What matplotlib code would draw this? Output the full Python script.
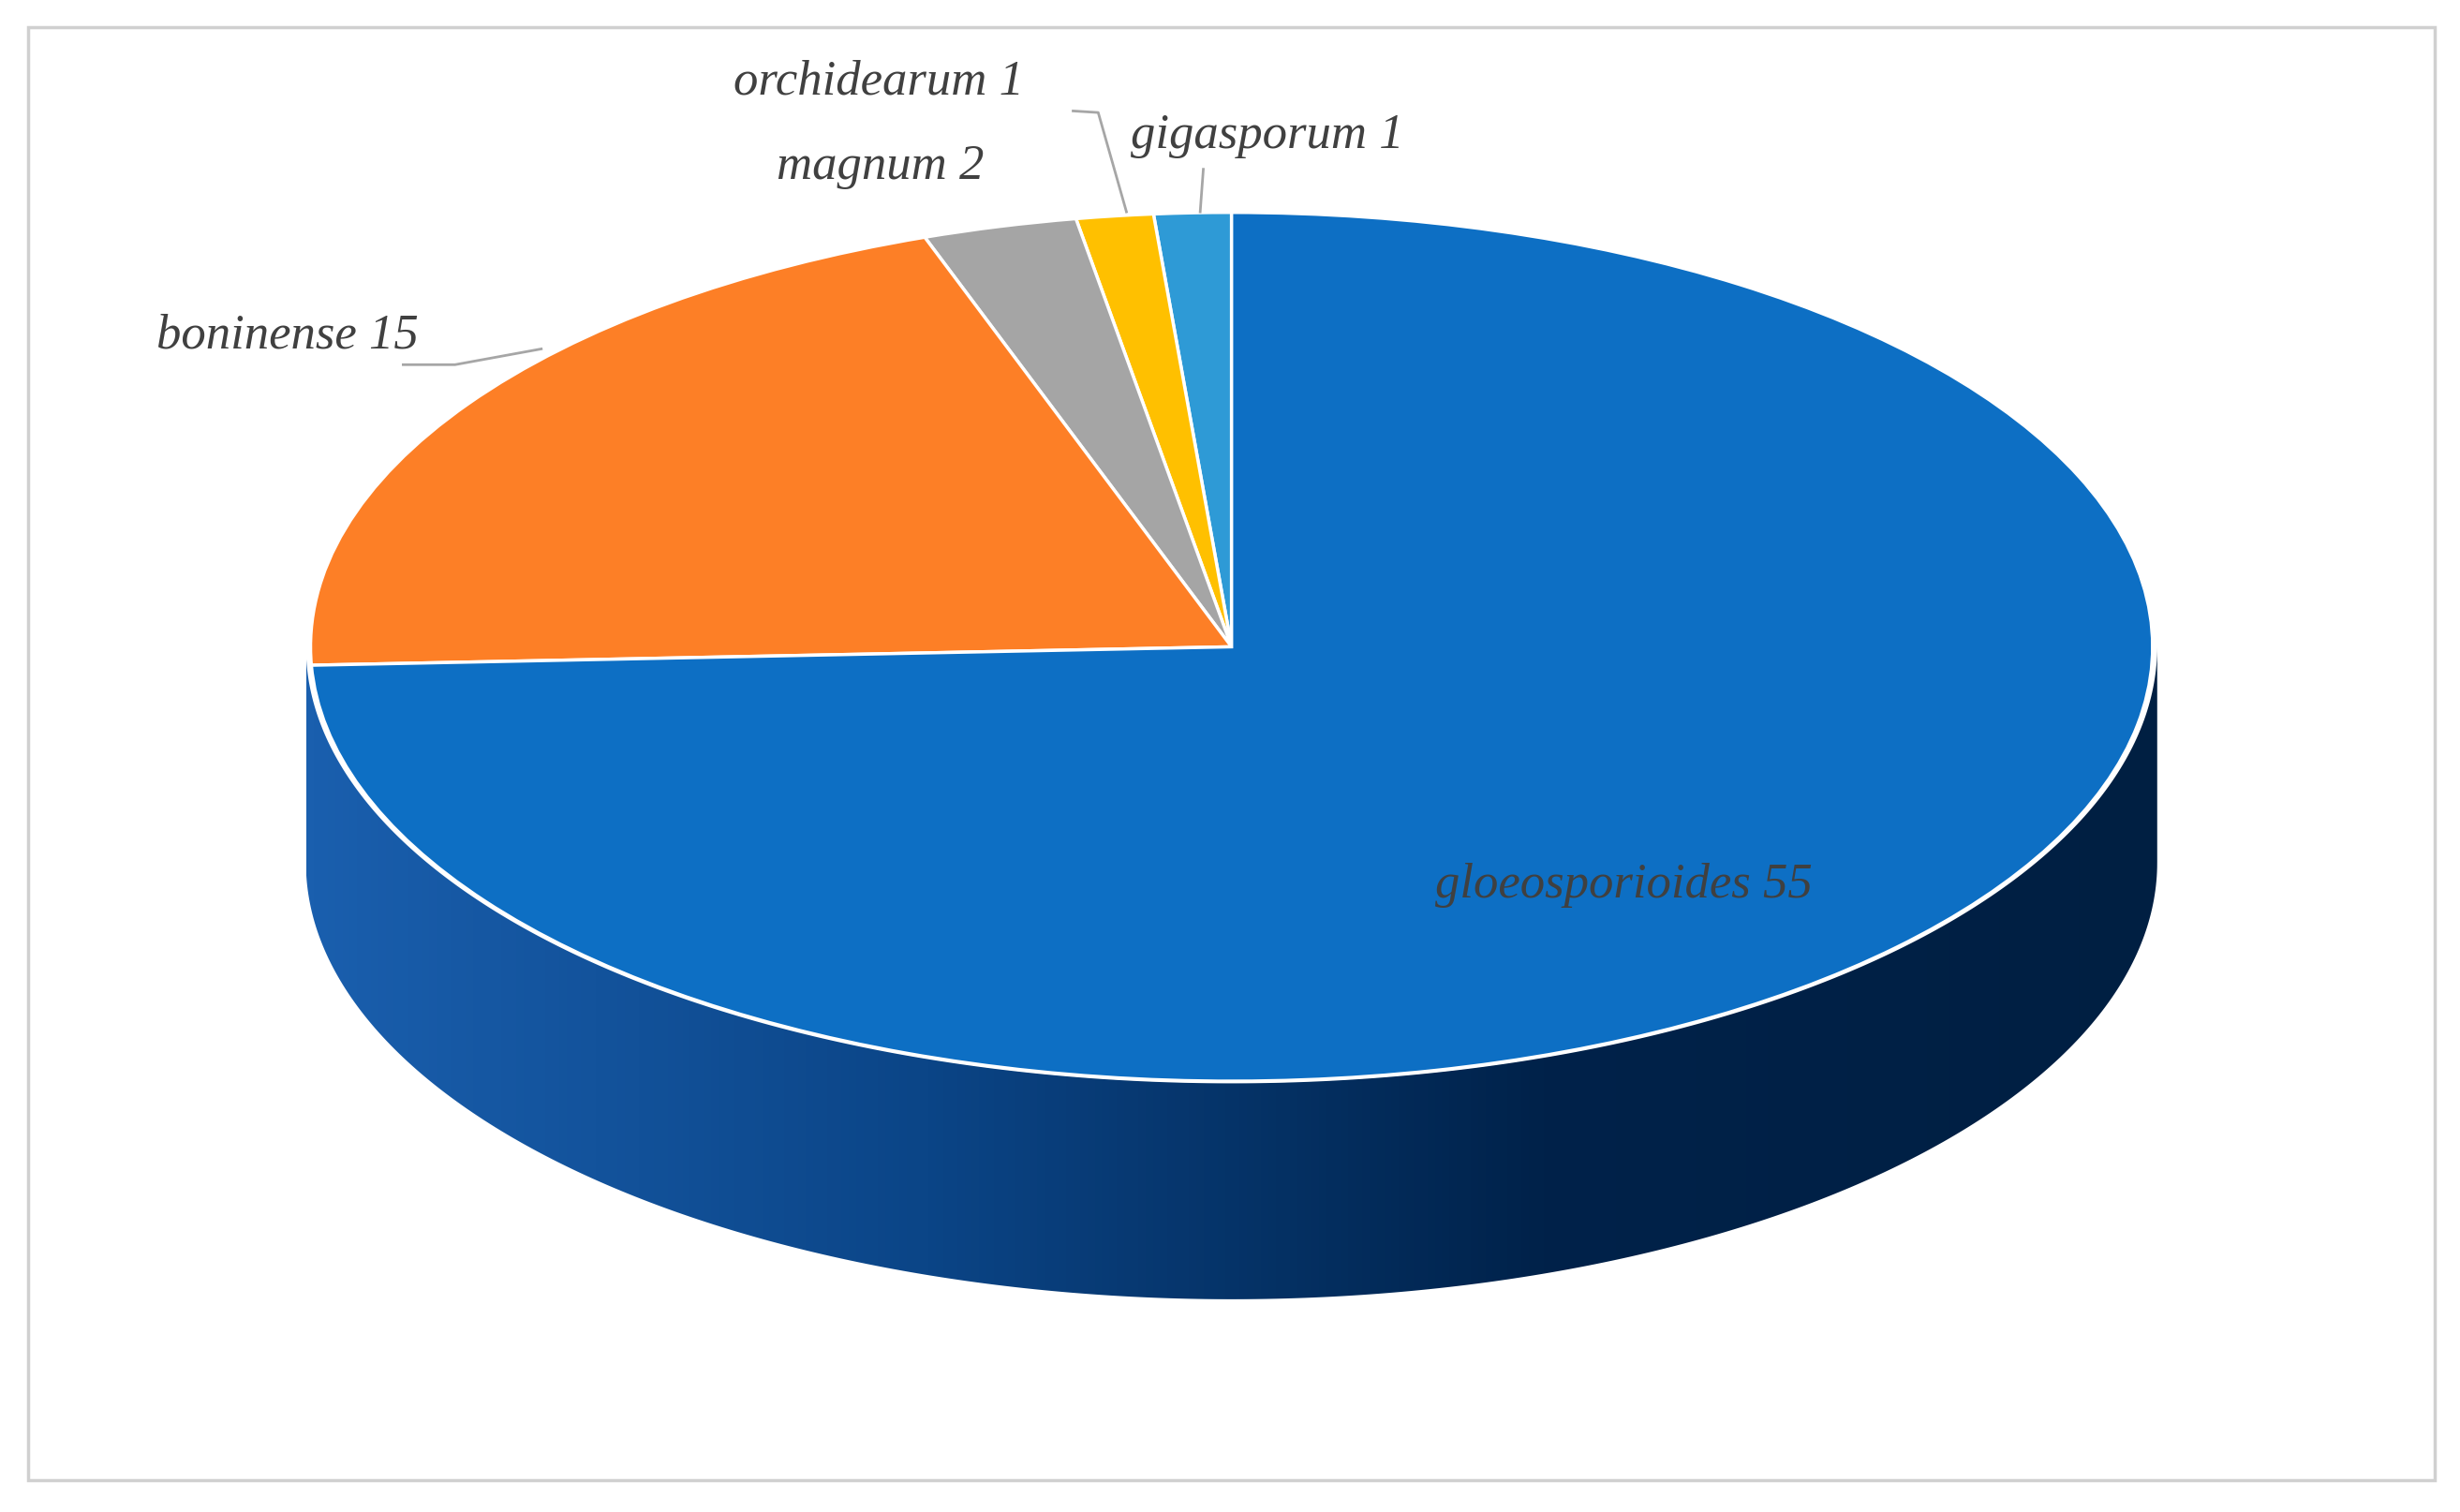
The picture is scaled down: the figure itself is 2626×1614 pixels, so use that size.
import numpy as np
import matplotlib.pyplot as plt
from matplotlib.patches import Polygon, Rectangle
from matplotlib.colors import LinearSegmentedColormap

names = ['gigasporum', 'orchidearum', 'magnum', 'boninense', 'gloeosporioides']
counts = [1, 1, 2, 15, 55]
colors = ['#2e9ad6', '#ffc000', '#a5a5a5', '#fd7f26', '#0d6fc4']

W, H = 1568, 960   # working coords (scaled to output)
cx, cy, rx, ry, depth = 785, 411, 590, 277, 137

fig = plt.figure(figsize=(26.26, 16.15), dpi=100)
ax = fig.add_axes([0, 0, 1, 1])
ax.set_zorder(0)
ax.axis('off')

# frame
ax.add_patch(Rectangle((18, 18), 1534, 922, fill=False, ec='#d0d0d0', lw=2.5))

# side of the cylinder (front half), with a left->right gradient
t = np.linspace(0, np.pi, 300)
ex = cx + rx * np.cos(t)
ey = cy + ry * np.sin(t)
verts = np.vstack([np.column_stack([ex, ey]), np.column_stack([ex[::-1], ey[::-1] + depth])])
side = Polygon(verts, closed=True, fc='none', ec='none')
ax.add_patch(side)
grad = np.linspace(0, 1, 256)[None, :]
cmap = LinearSegmentedColormap.from_list('side', ['#1a5fae', '#0b4587', '#00224a', '#001f42'])
im = ax.imshow(grad, cmap=cmap, extent=(cx - rx, cx + rx, cy + ry + depth, cy - 10),
               aspect='auto', zorder=1)
im.set_clip_path(side)
ax.set_xlim(0, W)
ax.set_ylim(H, 0)

# top face
pax = fig.add_axes([(cx - rx) / W, 1 - (cy + ry) / H, 2 * rx / W, 2 * ry / H])
pax.set_zorder(1)
pax.patch.set_alpha(0)
pax.pie(counts, colors=colors, startangle=90, counterclock=True, radius=1,
        wedgeprops=dict(edgecolor='white', linewidth=2.5))
pax.set_aspect('auto')
pax.set_xlim(-1.005, 1.005)
pax.set_ylim(-1.005, 1.005)
pax.axis('off')

# overlay for labels
tax = fig.add_axes([0, 0, 1, 1])
tax.set_zorder(2)
tax.patch.set_alpha(0)
tax.set_xlim(0, W)
tax.set_ylim(H, 0)
tax.axis('off')

lab_pos = [(808, 86), (560, 52), (561, 106), (183, 213), (1035, 562)]
tkw = dict(family=['Liberation Serif', 'DejaVu Serif'], style='italic', fontsize=38,
           color='#404040', ha='center', va='center')
for n, c, (x, y) in zip(names, counts, lab_pos):
    tax.text(x, y, f'{n} {c}', **tkw)

# leader lines
lk = dict(color='#a6a6a6', lw=2)
tax.plot([257, 290, 345], [232, 232, 222], **lk)
tax.plot([684, 700, 718], [71, 72, 135], **lk)
tax.plot([767, 765], [108, 135], **lk)

fig.savefig('out.png', dpi=100)
